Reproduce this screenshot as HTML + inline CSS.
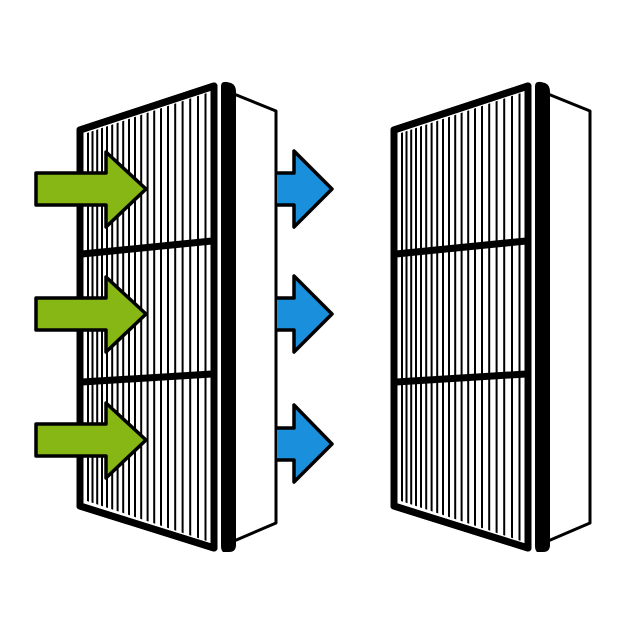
<!DOCTYPE html>
<html><head><meta charset="utf-8"><style>html,body{margin:0;padding:0;background:#fff}svg{display:block}</style></head>
<body>
<svg width="640" height="640" viewBox="0 0 640 640" xmlns="http://www.w3.org/2000/svg">
<defs>
<clipPath id="inner"><polygon points="84,134 210,92 210,542 84,500"/></clipPath>
<g id="filter">
  <polygon points="234,94 276,111 276,523 234,541" fill="#fff" stroke="#000" stroke-width="3" stroke-linejoin="round"/>
  <path d="M221,86 Q221,81 227,82 L231,83 Q236,85 236,92 L236,545 Q236,552 229,552 L223,552 Q221,550 221,546 Z" fill="#000"/>
  <polygon points="80,130 214,86 214,548 80,506" fill="#fff" stroke="#000" stroke-width="7" stroke-linejoin="round"/>
  <g clip-path="url(#inner)" stroke="#000" stroke-width="2">
    <line x1="88" y1="80" x2="88" y2="560"/><line x1="92.5" y1="80" x2="92.5" y2="560"/>
    <line x1="97.2" y1="80" x2="97.2" y2="560"/><line x1="102" y1="80" x2="102" y2="560"/>
    <line x1="107" y1="80" x2="107" y2="560"/><line x1="112.2" y1="80" x2="112.2" y2="560"/>
    <line x1="117.6" y1="80" x2="117.6" y2="560"/><line x1="123.2" y1="80" x2="123.2" y2="560"/>
    <line x1="129" y1="80" x2="129" y2="560"/><line x1="135" y1="80" x2="135" y2="560"/>
    <line x1="141.2" y1="80" x2="141.2" y2="560"/><line x1="147.6" y1="80" x2="147.6" y2="560"/>
    <line x1="154.2" y1="80" x2="154.2" y2="560"/><line x1="161" y1="80" x2="161" y2="560"/>
    <line x1="168" y1="80" x2="168" y2="560"/><line x1="175.2" y1="80" x2="175.2" y2="560"/>
    <line x1="182.6" y1="80" x2="182.6" y2="560"/><line x1="190.2" y1="80" x2="190.2" y2="560"/>
    <line x1="198" y1="80" x2="198" y2="560"/><line x1="205.5" y1="80" x2="205.5" y2="560"/>
  </g>
  <line x1="82" y1="254" x2="212" y2="241" stroke="#000" stroke-width="7"/>
  <line x1="82" y1="382" x2="212" y2="374" stroke="#000" stroke-width="7"/>
  <polygon points="80,130 214,86 214,548 80,506" fill="none" stroke="#000" stroke-width="7" stroke-linejoin="round"/>
</g>
</defs>

<use href="#filter"/>
<use href="#filter" transform="translate(314,0)"/>

<g fill="#86b714" stroke="#000" stroke-width="3.5" stroke-linejoin="round">
  <path d="M36,173 L106,173 L106,152 L146,189 L106,227 L106,205 L36,205 Z"/>
  <path d="M36,298 L106,298 L106,277 L146,314 L106,352 L106,330 L36,330 Z"/>
  <path d="M36,424 L106,424 L106,403 L146,440 L106,478 L106,456 L36,456 Z"/>
</g>
<g fill="#1a8fdc" stroke="#000" stroke-width="3.5" stroke-linejoin="round">
  <path d="M277,173 L294,173 L294,151 L332,189 L294,227 L294,205 L277,205"/>
  <path d="M277,298 L294,298 L294,276 L332,314 L294,352 L294,330 L277,330"/>
  <path d="M277,428 L294,428 L294,405 L332,444 L294,482 L294,460 L277,460"/>
</g>
</svg>
</body></html>
